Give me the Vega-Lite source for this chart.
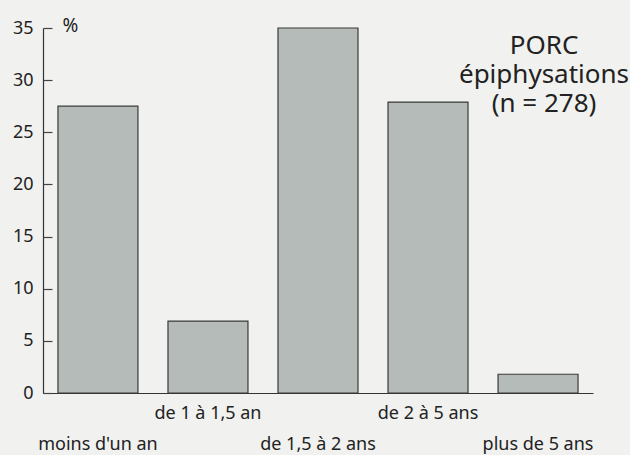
{
  "$schema": "https://vega.github.io/schema/vega-lite/v6.json",
  "autosize": {"type": "none"},
  "width": 550,
  "height": 365,
  "padding": {"left": 43, "top": 28, "right": 37, "bottom": 62},
  "background": "#f1f1ef",
  "title": {
    "text": ["PORC", "épiphysations", "(n = 278)"],
    "anchor": "end",
    "align": "center",
    "frame": "group",
    "baseline": "top",
    "offset": 0,
    "dx": -49,
    "dy": 101,
    "font": "Noto Sans",
    "fontSize": 26,
    "fontWeight": "normal",
    "lineHeight": 29,
    "color": "#222222"
  },
  "data": {
    "values": [
      {"age": "moins d'un an", "pct": 27.5},
      {"age": "de 1 à 1,5 an", "pct": 6.9},
      {"age": "de 1,5 à 2 ans", "pct": 35.0},
      {"age": "de 2 à 5 ans", "pct": 27.9},
      {"age": "plus de 5 ans", "pct": 1.8}
    ]
  },
  "encoding": {
    "x": {
      "field": "age",
      "type": "nominal",
      "sort": null,
      "scale": {"paddingInner": 0.273, "paddingOuter": 0.136},
      "axis": {
        "title": null,
        "labelAngle": 0,
        "ticks": false,
        "domainColor": "#333333",
        "domainWidth": 1.2,
        "labelFont": "Noto Sans",
        "labelFontSize": 18,
        "labelColor": "#222222",
        "labelBaseline": "top",
        "labelPadding": 11,
        "labelLineHeight": 31,
        "labelExpr": "indexof(['de 1 à 1,5 an','de 2 à 5 ans'], datum.value) >= 0 ? datum.value : ['', datum.value]"
      }
    }
  },
  "layer": [
    {
      "mark": {"type": "bar", "fill": "#b5bbb8", "stroke": "#3a3a3a", "strokeWidth": 1.2},
      "encoding": {
        "y": {
          "field": "pct",
          "type": "quantitative",
          "scale": {"domain": [0, 35], "nice": false},
          "axis": {
            "values": [0, 5, 10, 15, 20, 25, 30, 35],
            "grid": false,
            "ticks": false,
            "domainColor": "#333333",
            "domainWidth": 1.2,
            "labelPadding": 10,
            "labelFont": "Noto Sans",
            "labelFontSize": 18,
            "labelColor": "#222222",
            "title": "%",
            "titleAngle": 0,
            "titleX": 19,
            "titleY": -12,
            "titleAlign": "left",
            "titleBaseline": "top",
            "titleFont": "Noto Sans",
            "titleFontSize": 19,
            "titleFontWeight": "normal",
            "titleColor": "#222222"
          }
        }
      }
    },
    {
      "mark": {"type": "bar", "opacity": 0},
      "encoding": {
        "y": {
          "field": "pct",
          "type": "quantitative",
          "axis": {
            "orient": "right",
            "offset": -550,
            "values": [0, 5, 10, 15, 20, 25, 30, 35],
            "grid": false,
            "domain": false,
            "labels": false,
            "title": null,
            "ticks": true,
            "tickSize": 9,
            "tickColor": "#444444",
            "tickWidth": 1.2
          }
        }
      }
    }
  ],
  "resolve": {"axis": {"y": "independent"}},
  "config": {"view": {"stroke": null}}
}
